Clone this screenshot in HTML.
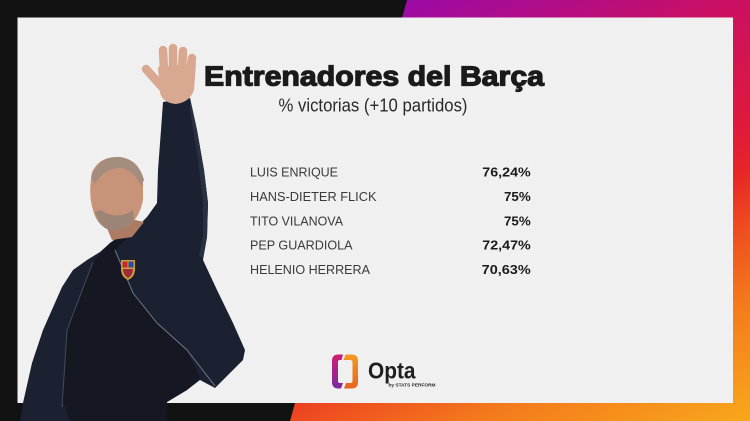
<!DOCTYPE html>
<html>
<head>
<meta charset="utf-8">
<style>
  html, body { margin:0; padding:0; background:#121212; }
  body { width:750px; height:421px; overflow:hidden; }
  svg { display:block; }
</style>
</head>
<body>
<svg width="750" height="421" viewBox="0 0 750 421" xmlns="http://www.w3.org/2000/svg">
  <defs>
    <linearGradient id="bg" gradientUnits="userSpaceOnUse" x1="400" y1="0" x2="611" y2="482">
      <stop offset="0" stop-color="#9a0aa8"/>
      <stop offset="0.27" stop-color="#cc1060"/>
      <stop offset="0.49" stop-color="#e01a3a"/>
      <stop offset="0.56" stop-color="#e82526"/>
      <stop offset="0.65" stop-color="#ee4a20"/>
      <stop offset="0.79" stop-color="#f47a1c"/>
      <stop offset="1" stop-color="#f8a81c"/>
    </linearGradient>
    <linearGradient id="lb" x1="0" y1="0" x2="0" y2="1">
      <stop offset="0" stop-color="#d01c72"/>
      <stop offset="1" stop-color="#7a2a9e"/>
    </linearGradient>
    <linearGradient id="rb" x1="0" y1="0" x2="0" y2="1">
      <stop offset="0" stop-color="#f39a24"/>
      <stop offset="1" stop-color="#e9621e"/>
    </linearGradient>
  </defs>

  <!-- background -->
  <rect x="0" y="0" width="750" height="421" fill="url(#bg)"/>
  <polygon points="0,0 407,0 290,421 0,421" fill="#121212"/>

  <!-- card -->
  <rect x="17.5" y="17.5" width="715.5" height="385.5" fill="#f0f0f0"/>

  <!-- person: jacket -->
  <path d="M163,102 L190,98 L197,130 L204,170 L208,203 L207,237 L203,260 L217,290 L233,323 L245,350 L243,360 L215,388 L200,380 L187,390 L167,402 L167,421 L20,421 L23,403 L32,363 L43,330 L62,287 L73,270 L87,260 L100,252 L110,243 L117,238 L133,230 L142,222 L147,217 L157,203 L158,170 L161,130 Z" fill="#1c2131"/>
  <!-- shirt -->
  <path d="M110,243 L117,238 L133,232 L115,250 L133,293 L157,323 L187,350 L200,378 L187,390 L167,402 L167,421 L70,421 L62,400 L67,330 L93,262 Z" fill="#151822"/>
  <!-- zipper lines -->
  <polyline points="115,250 133,293 157,323 187,350 215,386" fill="none" stroke="#6f7685" stroke-width="1"/>
  <polyline points="93,262 67,330 62,407" fill="none" stroke="#454b5a" stroke-width="1"/>
  <!-- sleeve highlight -->
  <path d="M190,98 L197,130 L204,170 L208,203 L207,237 L203,258 L199,256 L203,235 L203,200 L198,160 L190,110 Z" fill="#283041"/>

  <!-- neck -->
  <path d="M106,226 L135,220 L144,222 L132,237 L112,240 Z" fill="#ad7b64"/>
  <!-- head -->
  <path d="M92,172 Q100,156 118,157 Q138,158 143,180 L143,200 Q140,215 132,223 Q120,232 110,230 Q97,226 93,210 Q88,195 92,172 Z" fill="#c79479"/>
  <path d="M95,212 Q100,228 110,230 Q122,232 134,221 L133,210 Q118,221 100,210 Z" fill="#9c8476"/>
  <path d="M91,178 Q97,157 118,157 Q138,158 144,180 L141,186 Q135,171 121,168 Q104,168 95,184 Z" fill="#a58d7d"/>
  <!-- crest -->
  <path d="M121,260 L135,260 L135,269 Q135,277 128,280 Q121,277 121,269 Z" fill="#c9a03c"/>
  <rect x="122.5" y="261.5" width="5" height="6" fill="#c8282d"/>
  <rect x="128.5" y="261.5" width="5" height="6" fill="#2b4c9c"/>
  <path d="M123,269 L133,269 Q133,275 128,278 Q123,275 123,269 Z" fill="#9e2a3a"/>

  <!-- hand -->
  <g stroke="#d8a891" stroke-width="8.5" stroke-linecap="round" fill="none">
    <line x1="164" y1="72" x2="163" y2="50"/>
    <line x1="173" y1="70" x2="173" y2="48"/>
    <line x1="182" y1="70" x2="183" y2="51"/>
    <line x1="190" y1="72" x2="192" y2="58"/>
    <line x1="163" y1="88" x2="146" y2="69"/>
  </g>
  <path d="M158,67 L196,63 L194,90 Q190,102 176,104 Q163,103 160,93 Z" fill="#d8a891"/>

  <!-- title -->
  <text x="204" y="85.3" font-family="Liberation Sans, sans-serif" font-weight="bold" font-size="28" fill="#1a1a1a" stroke="#1a1a1a" stroke-width="1.2" textLength="340" lengthAdjust="spacingAndGlyphs">Entrenadores del Barça</text>
  <text x="278.5" y="111.5" font-family="Liberation Sans, sans-serif" font-size="18" fill="#2a2a2a" textLength="189" lengthAdjust="spacingAndGlyphs">% victorias (+10 partidos)</text>

  <!-- list -->
  <g font-family="Liberation Sans, sans-serif" font-size="12.5" fill="#3a3a3a">
    <text x="250" y="176.5" textLength="88" lengthAdjust="spacingAndGlyphs">LUIS ENRIQUE</text>
    <text x="250" y="200.9" textLength="126.5" lengthAdjust="spacingAndGlyphs">HANS-DIETER FLICK</text>
    <text x="250" y="225.3" textLength="93" lengthAdjust="spacingAndGlyphs">TITO VILANOVA</text>
    <text x="250" y="249.7" textLength="102.5" lengthAdjust="spacingAndGlyphs">PEP GUARDIOLA</text>
    <text x="250" y="274.1" textLength="120" lengthAdjust="spacingAndGlyphs">HELENIO HERRERA</text>
  </g>
  <g font-family="Liberation Sans, sans-serif" font-size="13" font-weight="bold" fill="#1a1a1a">
    <text x="482.3" y="176.5" textLength="48.4" lengthAdjust="spacingAndGlyphs">76,24%</text>
    <text x="504" y="200.9" textLength="26.7" lengthAdjust="spacingAndGlyphs">75%</text>
    <text x="504" y="225.3" textLength="26.7" lengthAdjust="spacingAndGlyphs">75%</text>
    <text x="482.3" y="249.7" textLength="48.4" lengthAdjust="spacingAndGlyphs">72,47%</text>
    <text x="481.7" y="274.1" textLength="49" lengthAdjust="spacingAndGlyphs">70,63%</text>
  </g>

  <!-- Opta logo -->
  <path d="M343,354.5 L338.5,354.5 Q332,354.5 332,361 L332,382 Q332,388.5 338.5,388.5 L341,388.5 L343,383 L340,383 Q338,383 338,381 L338,362 Q338,360 340,360 L341.5,360 Z" fill="url(#lb)"/>
  <path d="M345.5,354.5 L351.5,354.5 Q358,354.5 358,361 L358,382 Q358,388.5 351.5,388.5 L344,388.5 L346,383 L350,383 Q352.5,383 352.5,381 L352.5,362 Q352.5,360 350,360 L343.5,360 Z" fill="url(#rb)"/>
  <text x="368" y="378.3" font-family="Liberation Sans, sans-serif" font-weight="bold" font-size="23" fill="#1e1e1e" textLength="47.5" lengthAdjust="spacingAndGlyphs">Opta</text>
  <text x="388.5" y="386.5" font-family="Liberation Sans, sans-serif" font-weight="bold" font-size="4.6" fill="#2a2a2a" textLength="47" lengthAdjust="spacingAndGlyphs">by STATS PERFORM</text>
</svg>
</body>
</html>
